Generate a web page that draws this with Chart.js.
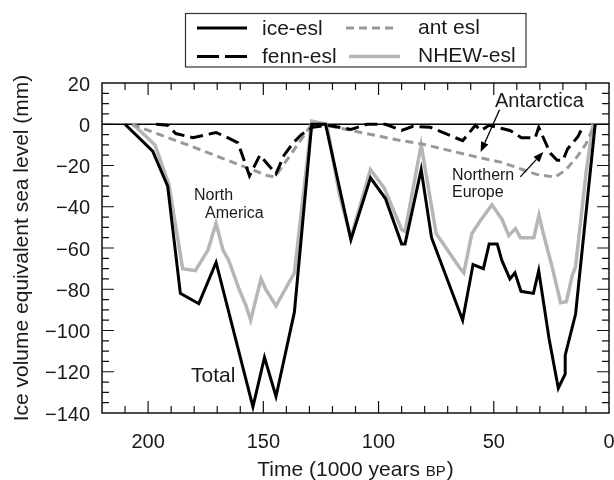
<!DOCTYPE html>
<html><head><meta charset="utf-8">
<script src="https://cdn.jsdelivr.net/npm/chart.js@4.4.0/dist/chart.umd.min.js"></script>
<style>html,body{margin:0;padding:0;background:#fff}#wrap{width:614px;height:480px}</style>
</head><body><div id="wrap"><canvas id="c" width="614" height="480"></canvas></div>
<script>
// ---- data (time in 1000 years BP, values in mm) ----
const iceT = [210,198,191.5,186,178,170.5,154.5,149.5,144.5,136.5,129,123,112,103.5,97,90,88.5,81.5,77,63.5,59,54.5,52,48.5,46.5,43,40.8,38.2,32.8,30.5,26,22,19,19,14.5,6];
const iceV = [0,-13,-30,-82,-87,-67,-137,-113,-132,-91,0,0,-56,-26,-36,-58,-58,-22,-55,-95,-68,-70,-58,-58,-66,-75,-72,-81,-82,-71,-104,-128,-121,-112,-92,0];

const fennT = [196.5,191.5,188,180.5,170.5,165.5,161,156,151.5,144.5,141,137,133.5,128.5,122,112,105,97,90,85,77.5,63.5,58,55.5,52,48.5,43,38,32,30.5,25.5,22.5,20,18,13.5,11];
const fennV = [0,-0.5,-4.5,-6.5,-4,-6.5,-9,-25,-15,-24,-15,-9,-5,-1.5,-0.5,-2.5,0,0,-3,-1,-1.5,-8,-0.5,-3,-0.5,-1.5,-3,-6.5,-6.5,-1.5,-14,-17.5,-17.5,-12,-6,-0.5];

const antT = [207,177,148,145,138,129,125,90,81.5,57,46.5,40,31.5,23.5,19,14,10,7];
const antV = [0,-12.5,-25,-25.5,-14.5,0,0,-8,-9.5,-16,-18.5,-21,-24.3,-25.6,-22.4,-16,-9.5,-2];

const nhewT = [206.5,197,191,185,179.5,174,170.5,167.5,165,160.5,157.5,155.5,151,149,144.5,136.5,129,122.5,117,112,103.5,97.5,90,88.5,81.5,75,64.5,63,59.5,56,50.8,46.5,43.5,40.6,38.4,32.6,30.4,28.5,24.7,21,18.5,16,14.5,10,7];
const nhewV = [0,-10,-29,-70,-71,-61,-48,-61,-66,-80,-88,-95,-75,-80,-88,-72,1.5,0,-34,-55,-22,-31,-51,-52,-10,-53,-70,-72,-53,-47,-39,-46,-54,-50.6,-55,-55,-44,-53,-69,-86.5,-86,-73.5,-69,-24,0];

const seriesNames = ['ice-esl','fenn-esl','ant esl','NHEW-esl'];
const xTickLabels = [200,150,100,50,0];
const yTickLabels = [20,0,-20,-40,-60,-80,-100,-120,-140];

const FONT = "'Liberation Sans', Arial, Helvetica, sans-serif";
const TXT = '#1a1a1a';
function pts(t, v) { return t.map((x, i) => ({x: x, y: v[i]})); }

const deco = {
  id: 'deco',
  beforeDatasetsDraw(chart) {
    const {ctx, chartArea: a, scales: {y}} = chart;
    ctx.save();
    ctx.strokeStyle = '#000'; ctx.lineWidth = 1.5;
    const y0 = y.getPixelForValue(0);
    ctx.beginPath(); ctx.moveTo(a.left, y0); ctx.lineTo(a.right, y0); ctx.stroke();
    ctx.restore();
  },
  afterDatasetsDraw(chart) {
    const {ctx, chartArea: a, scales: {x, y}} = chart;
    ctx.save();
    // frame
    ctx.strokeStyle = '#111'; ctx.lineWidth = 1.5; ctx.setLineDash([]);
    ctx.strokeRect(a.left, a.top, a.right - a.left, a.bottom - a.top);
    // inward ticks
    ctx.lineWidth = 1.2;
    ctx.beginPath();
    for (let t = 10; t < 220; t += 10) {
      const px = x.getPixelForValue(t), L = (t % 50 === 0) ? 12 : 7;
      ctx.moveTo(px, a.bottom); ctx.lineTo(px, a.bottom - L);
      ctx.moveTo(px, a.top); ctx.lineTo(px, a.top + L);
    }
    for (let v = -135; v < 20; v += 5) {
      const py = y.getPixelForValue(v), L = (v % 20 === 0) ? 12 : 7;
      ctx.moveTo(a.left, py); ctx.lineTo(a.left + L, py);
      ctx.moveTo(a.right, py); ctx.lineTo(a.right - L, py);
    }
    ctx.stroke();

    // annotations
    ctx.fillStyle = TXT; ctx.textBaseline = 'alphabetic'; ctx.textAlign = 'left';
    ctx.font = '20px ' + FONT;
    ctx.fillText('Antarctica', 495, 107);
    ctx.font = '21px ' + FONT;
    ctx.fillText('Total', 191, 382);
    ctx.font = '16px ' + FONT;
    ctx.fillText('North', 194, 200);
    ctx.fillText('America', 205, 218);
    ctx.fillText('Northern', 452, 180);
    ctx.fillText('Europe', 452, 197);

    function arrow(x1, y1, x2, y2) {
      ctx.strokeStyle = '#000'; ctx.fillStyle = '#000'; ctx.lineWidth = 1.3;
      const ang = Math.atan2(y2 - y1, x2 - x1), h = 10, w = 4;
      const bx = x2 - h * Math.cos(ang), by = y2 - h * Math.sin(ang);
      ctx.beginPath(); ctx.moveTo(x1, y1); ctx.lineTo(bx, by); ctx.stroke();
      ctx.beginPath(); ctx.moveTo(x2, y2);
      ctx.lineTo(bx + w * Math.sin(ang), by - w * Math.cos(ang));
      ctx.lineTo(bx - w * Math.sin(ang), by + w * Math.cos(ang));
      ctx.closePath(); ctx.fill();
    }
    arrow(x.getPixelForValue(47.5), y.getPixelForValue(7), x.getPixelForValue(55.7), y.getPixelForValue(-13.5));
    arrow(x.getPixelForValue(38.5), y.getPixelForValue(-25.5), x.getPixelForValue(28.5), y.getPixelForValue(-13.5));

    // legend
    ctx.fillStyle = '#fff';
    ctx.fillRect(185.5, 13.5, 340.5, 53.5);
    ctx.strokeStyle = '#333'; ctx.lineWidth = 1.2; ctx.setLineDash([]);
    ctx.strokeRect(185.5, 13.5, 340.5, 53.5);
    const ds = chart.data.datasets;
    const cells = [
      {i: 0, lx: 197, lw: 50, tx: 262, ly: 28, ty: 35, dash: []},
      {i: 2, lx: 346, lw: 52, tx: 418, ly: 28, ty: 34, dash: [8, 5]},
      {i: 1, lx: 197, lw: 50, tx: 262, ly: 56.5, ty: 63, dash: [22, 6]},
      {i: 3, lx: 349, lw: 51, tx: 418, ly: 56.5, ty: 62, dash: []}
    ];
    ctx.font = '21px ' + FONT;
    cells.forEach(c => {
      const d = ds[c.i];
      ctx.strokeStyle = d.borderColor; ctx.lineWidth = d.borderWidth;
      ctx.setLineDash(c.dash);
      ctx.beginPath(); ctx.moveTo(c.lx, c.ly); ctx.lineTo(c.lx + c.lw, c.ly); ctx.stroke();
      ctx.setLineDash([]);
      ctx.fillStyle = TXT; ctx.fillText(d.label, c.tx, c.ty);
    });

    // axis titles
    ctx.fillStyle = TXT;
    const big = '21px ' + FONT, small = '15px ' + FONT;
    const p1 = 'Time (1000 years ', p2 = 'BP', p3 = ')';
    ctx.font = big; const w1 = ctx.measureText(p1).width, w3 = ctx.measureText(p3).width;
    ctx.font = small; const w2 = ctx.measureText(p2).width + 1;
    let sx = (a.left + a.right) / 2 - (w1 + w2 + w3) / 2;
    const by = 476;
    ctx.font = big; ctx.fillText(p1, sx, by);
    ctx.font = small; ctx.fillText(p2, sx + w1, by);
    ctx.font = big; ctx.fillText(p3, sx + w1 + w2, by);

    ctx.translate(28, (a.top + a.bottom) / 2);
    ctx.rotate(-Math.PI / 2);
    ctx.textAlign = 'center'; ctx.font = big;
    ctx.fillText('Ice volume equivalent sea level (mm)', 0, 0);
    ctx.restore();
  }
};

new Chart(document.getElementById('c'), {
  type: 'line',
  data: {
    datasets: [
      {label: seriesNames[0], data: pts(iceT, iceV), borderColor: '#000', borderWidth: 3, pointRadius: 0, fill: false, tension: 0, order: 0},
      {label: seriesNames[1], data: pts(fennT, fennV), borderColor: '#000', borderWidth: 3, borderDash: [13, 6], pointRadius: 0, fill: false, tension: 0, order: 1},
      {label: seriesNames[2], data: pts(antT, antV), borderColor: '#999999', borderWidth: 3, borderDash: [8, 5], pointRadius: 0, fill: false, tension: 0, order: 2},
      {label: seriesNames[3], data: pts(nhewT, nhewV), borderColor: '#b6b6b6', borderWidth: 3.5, pointRadius: 0, fill: false, tension: 0, order: 3}
    ]
  },
  options: {
    responsive: false, animation: false, devicePixelRatio: 1,
    layout: {padding: {top: 83, right: 5, left: 0, bottom: 0}},
    plugins: {legend: {display: false}, tooltip: {enabled: false}},
    elements: {line: {borderJoinStyle: 'miter', borderCapStyle: 'butt'}},
    scales: {
      x: {
        type: 'linear', min: 0, max: 220, reverse: true,
        grid: {display: false, drawTicks: false}, border: {display: false},
        afterBuildTicks: s => { s.ticks = xTickLabels.map(v => ({value: v})); },
        ticks: {autoSkip: false, maxRotation: 0, padding: 17, color: TXT, font: {family: FONT, size: 20},
          callback: v => String(v)},
        afterFit: s => { s.height = 67; s.paddingLeft = 0; s.paddingRight = 0; }
      },
      y: {
        type: 'linear', min: -140, max: 20,
        grid: {display: false, drawTicks: false}, border: {display: false},
        afterBuildTicks: s => { s.ticks = yTickLabels.map(v => ({value: v})); },
        ticks: {padding: 12, labelOffset: 2, color: TXT, font: {family: FONT, size: 20},
          callback: v => String(v).replace('-', '\u2212')},
        afterFit: s => { s.width = 102; s.paddingTop = 0; s.paddingBottom = 0; }
      }
    }
  },
  plugins: [deco]
});
</script>
</body></html>
